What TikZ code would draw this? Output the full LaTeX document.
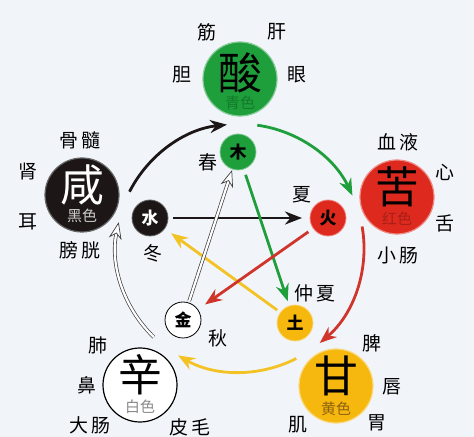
\documentclass[tikz,border=0pt]{standalone}
\usepackage{fontspec}
\setmainfont{Noto Sans CJK SC}
\usetikzlibrary{arrows.meta}
\definecolor{paper}{HTML}{F1F5FA}
\definecolor{wxgreen}{HTML}{1F9E3C}
\definecolor{wxgreendk}{HTML}{137A2A}
\definecolor{wxred}{HTML}{DE2A1E}
\definecolor{wxreddk}{HTML}{A81E16}
\definecolor{wxyellow}{HTML}{F6B80E}
\definecolor{wxyellowdk}{HTML}{8E6212}
\definecolor{wxblack}{HTML}{1C1616}
\definecolor{wxgray}{HTML}{8A8A8A}
\definecolor{lnred}{HTML}{D0352B}
\definecolor{lnyellow}{HTML}{F3C224}
\begin{document}
\begin{tikzpicture}[>={Stealth[length=17bp,width=13bp]},line join=bevel,
  bigdisc/.style={circle,minimum size=74bp,inner sep=0pt,outer sep=0pt,line width=1.2bp},
  smalldisc/.style={circle,minimum size=36bp,inner sep=0pt,outer sep=0pt,line width=0.8bp,font=\fontsize{17}{17}\selectfont\bfseries},
  organtext/.style={inner sep=0pt,font=\fontsize{19}{19}\selectfont},
  tastetext/.style={inner sep=0pt,font=\fontsize{44}{44}\selectfont},
  huetext/.style={inner sep=0pt,font=\fontsize{15}{15}\selectfont},
  flowline/.style={line width=2.8bp},
  hollowline/.style={draw=black!75,double=white,line width=0.7bp,double distance=2.2bp},
  ]
%%
\fill [paper] (0bp,0bp) rectangle (474bp,437bp);
\useasboundingbox (0bp,0bp) rectangle (474bp,437bp);
%% big discs
\node (node_0) at (240bp,358bp) [bigdisc,fill=wxgreen,draw=wxgreen!55!white] {};
  \node (node_10) at (240bp,364bp) [tastetext] {酸};
  \node (node_11) at (240bp,334bp) [huetext,text=wxgreendk] {青色};
\node (node_1) at (82bp,242bp) [bigdisc,fill=wxblack,draw=black!60] {};
  \node (node_12) at (82bp,252bp) [tastetext,text=white] {咸};
  \node (node_13) at (82bp,221bp) [huetext,text=black!20] {黑色};
\node (node_2) at (397bp,240bp) [bigdisc,fill=wxred,draw=wxred!55!white] {};
  \node (node_14) at (397bp,250bp) [tastetext] {苦};
  \node (node_15) at (397bp,218bp) [huetext,text=wxreddk] {红色};
\node (node_3) at (336bp,51bp) [bigdisc,fill=wxyellow,draw=wxyellow!55!white] {};
  \node (node_16) at (336bp,61bp) [tastetext] {甘};
  \node (node_17) at (336bp,28bp) [huetext,text=wxyellowdk] {黄色};
\node (node_4) at (140bp,52bp) [bigdisc,fill=white,draw=black] {};
  \node (node_18) at (140bp,62bp) [tastetext] {辛};
  \node (node_19) at (140bp,30bp) [huetext,text=wxgray] {白色};
%% small discs
\node (node_5) at (238bp,285bp) [smalldisc,fill=wxgreen,draw=wxgreen!55!white] {木};
\node (node_6) at (150bp,219bp) [smalldisc,fill=wxblack,draw=black!60,text=white] {水};
\node (node_7) at (328bp,219bp) [smalldisc,fill=wxred,draw=wxred!55!white] {火};
\node (node_8) at (295bp,114bp) [smalldisc,fill=wxyellow,draw=wxyellow!55!white] {土};
\node (node_9) at (183bp,117bp) [smalldisc,fill=white,draw=black] {金};
%% labels
\node (node_20) at (207bp,405bp) [organtext] {筋};
  \node (node_21) at (277bp,405bp) [organtext] {肝};
  \node (node_22) at (182bp,362bp) [organtext] {胆};
  \node (node_23) at (297bp,362bp) [organtext] {眼};
\node (node_24) at (80bp,297bp) [organtext] {骨\,髓};
  \node (node_25) at (28bp,265bp) [organtext] {肾};
  \node (node_26) at (28bp,215bp) [organtext] {耳};
  \node (node_27) at (80bp,187bp) [organtext] {膀\,胱};
\node (node_28) at (398bp,295bp) [organtext] {血\,液};
  \node (node_29) at (445bp,265bp) [organtext] {心};
  \node (node_30) at (445bp,214bp) [organtext] {舌};
  \node (node_31) at (398bp,182bp) [organtext] {小\,肠};
\node (node_32) at (372bp,94bp) [organtext] {脾};
  \node (node_33) at (392bp,50bp) [organtext] {唇};
  \node (node_34) at (377bp,14bp) [organtext] {胃};
  \node (node_35) at (298bp,12bp) [organtext] {肌};
\node (node_36) at (98bp,92bp) [organtext] {肺};
  \node (node_37) at (87bp,52bp) [organtext] {鼻};
  \node (node_38) at (90bp,12bp) [organtext] {大\,肠};
  \node (node_39) at (190bp,10bp) [organtext] {皮\,毛};
\node (node_40) at (153bp,184bp) [organtext] {冬};
  \node (node_41) at (208bp,275bp) [organtext] {春};
  \node (node_42) at (302bp,242bp) [organtext] {夏};
  \node (node_43) at (315bp,144bp) [organtext] {仲\,夏};
  \node (node_44) at (218bp,99bp) [organtext] {秋};
%% outer ring
\coordinate (arc_0) at (129.5bp,245.3bp);
\coordinate (arc_1) at (227bp,312.3bp);
\coordinate (arc_2) at (257.3bp,311.8bp);
\coordinate (arc_3) at (352.4bp,241.4bp);
\coordinate (arc_4) at (362.1bp,210.5bp);
\coordinate (arc_5) at (319.7bp,94bp);
\coordinate (arc_6) at (296.3bp,78.5bp);
\coordinate (arc_7) at (178bp,81.6bp);
\coordinate (arc_8) at (153.9bp,99.8bp);
\coordinate (arc_9) at (118.7bp,214.8bp);
  \draw [wxblack,flowline,->] (arc_0) ..controls (148.6bp,282.7bp) and (185.2bp,307.9bp)  .. (arc_1);
  \draw [wxgreen,flowline,->] (arc_2) ..controls (298.9bp,306bp) and (334.6bp,279.5bp)  .. (arc_3);
  \draw [lnred,flowline,->] (arc_4) ..controls (369.8bp,166.9bp) and (353.6bp,122.5bp)  .. (arc_5);
  \draw [lnyellow,flowline,->] (arc_6) ..controls (258.9bp,59.4bp) and (214.4bp,60.6bp)  .. (arc_7);
  \draw [hollowline,-{Stealth[length=17bp,width=13bp,open,fill=white]}] (arc_8) ..controls (123.1bp,129.5bp) and (109.8bp,172.9bp)  .. (arc_9);
%% inner star
  \draw [wxblack,flowline,->,shorten <=5bp,shorten >=8bp] (node_6) -- (node_7);
  \draw [wxgreen,flowline,->,shorten <=6bp,shorten >=5bp] (node_5) -- (node_8);
  \draw [lnyellow,flowline,->,shorten <=4bp,shorten >=8bp] (node_8) -- (node_6);
  \draw [lnred,flowline,->,shorten <=6bp,shorten >=9bp] (node_7) -- (node_9);
  \draw [hollowline,-{Stealth[length=17bp,width=13bp,open,fill=white]},shorten <=2bp,shorten >=1bp] (node_9) -- (node_5);
%
\end{tikzpicture}
\end{document}
